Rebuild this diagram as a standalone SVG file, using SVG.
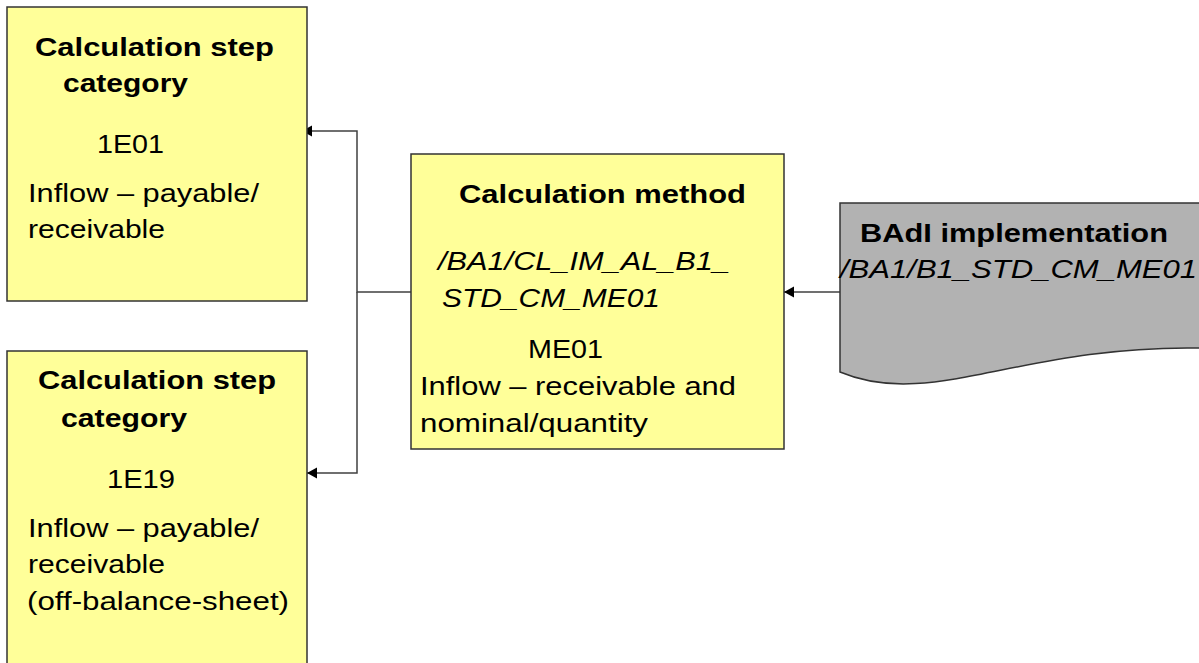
<svg xmlns="http://www.w3.org/2000/svg" width="1199" height="663" viewBox="0 0 1199 663">
<style>
  .box { fill: #FFFF99; stroke: #333333; stroke-width: 1.5; }
  .doc { fill: #B2B2B2; stroke: #333333; stroke-width: 1.5; }
  .conn { fill: none; stroke: #404040; stroke-width: 1.5; }
  text { font-family: "Liberation Sans", Arial, sans-serif; font-size: 26px; fill: #000000; }
  .b { font-weight: bold; }
  .i { font-style: italic; }
</style>
<defs>
  <marker id="arrow" markerUnits="userSpaceOnUse" markerWidth="12" markerHeight="14" refX="10" refY="7" orient="auto">
    <path d="M0,1.5 L10,7 L0,12.5 z" fill="#000000"/>
  </marker>
</defs>
<rect x="0" y="0" width="1199" height="663" fill="#FFFFFF"/>

<g id="connectors">
  <path class="conn" d="M411,292 H357 V131 H302" marker-end="url(#arrow)"/>
  <path class="conn" d="M357,292 V473 H307" marker-end="url(#arrow)"/>
  <path class="conn" d="M841,292 H784" marker-end="url(#arrow)"/>
</g>

<g id="step-1E01">
  <rect class="box" x="7" y="7" width="300" height="294"/>
  <text class="b" x="35" y="56" textLength="239" lengthAdjust="spacingAndGlyphs">Calculation step</text>
  <text class="b" x="63" y="92" textLength="125" lengthAdjust="spacingAndGlyphs">category</text>
  <text x="97" y="153" textLength="67" lengthAdjust="spacingAndGlyphs">1E01</text>
  <text x="28" y="202" textLength="231" lengthAdjust="spacingAndGlyphs">Inflow – payable/</text>
  <text x="28" y="238" textLength="137" lengthAdjust="spacingAndGlyphs">receivable</text>
</g>

<g id="step-1E19">
  <rect class="box" x="7" y="351" width="300" height="330"/>
  <text class="b" x="38" y="389" textLength="238" lengthAdjust="spacingAndGlyphs">Calculation step</text>
  <text class="b" x="61" y="427" textLength="126" lengthAdjust="spacingAndGlyphs">category</text>
  <text x="107" y="488" textLength="68" lengthAdjust="spacingAndGlyphs">1E19</text>
  <text x="28" y="537" textLength="231" lengthAdjust="spacingAndGlyphs">Inflow – payable/</text>
  <text x="28" y="573" textLength="137" lengthAdjust="spacingAndGlyphs">receivable</text>
  <text x="27" y="610" textLength="262" lengthAdjust="spacingAndGlyphs">(off-balance-sheet)</text>
</g>

<g id="calc-method">
  <rect class="box" x="411" y="154" width="373" height="295"/>
  <text class="b" x="459" y="203" textLength="287" lengthAdjust="spacingAndGlyphs">Calculation method</text>
  <text class="i" x="438" y="270" textLength="292" lengthAdjust="spacingAndGlyphs">/BA1/CL_IM_AL_B1_</text>
  <text class="i" x="442" y="307" textLength="218" lengthAdjust="spacingAndGlyphs">STD_CM_ME01</text>
  <text x="528" y="358" textLength="75" lengthAdjust="spacingAndGlyphs">ME01</text>
  <text x="420" y="395" textLength="316" lengthAdjust="spacingAndGlyphs">Inflow – receivable and</text>
  <text x="420" y="432" textLength="228" lengthAdjust="spacingAndGlyphs">nominal/quantity</text>
</g>

<g id="badi-impl">
  <path class="doc" d="M840,203 H1210 V347 L1199,348 C1020,345 930,410 840,372 Z"/>
  <text class="b" x="860" y="242" textLength="308" lengthAdjust="spacingAndGlyphs">BAdI implementation</text>
  <text class="i" x="840" y="278" textLength="357" lengthAdjust="spacingAndGlyphs">/BA1/B1_STD_CM_ME01</text>
</g>
</svg>
